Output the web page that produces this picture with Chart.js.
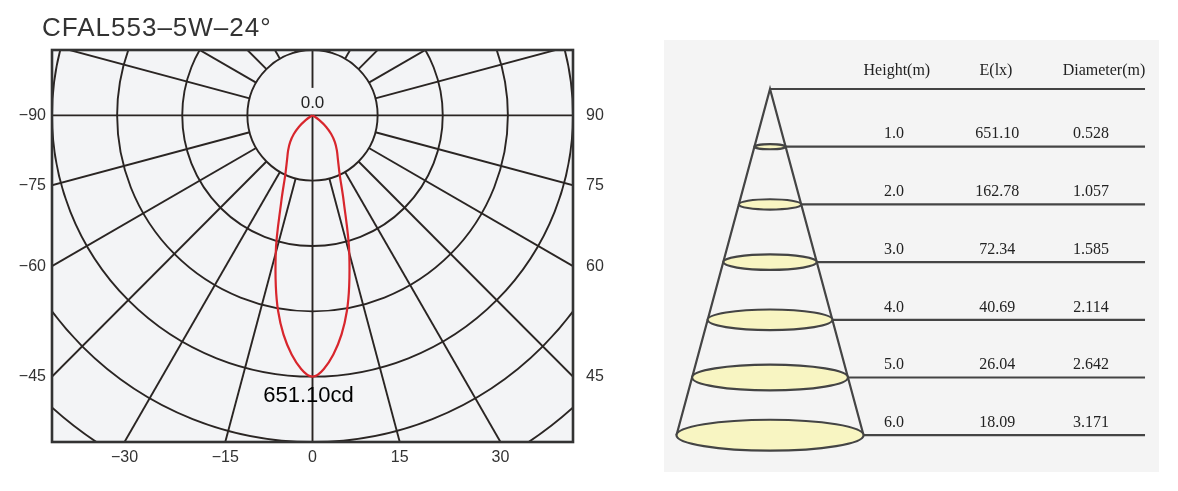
<!DOCTYPE html>
<html>
<head>
<meta charset="utf-8">
<title>CFAL553–5W–24°</title>
<script src="https://cdn.jsdelivr.net/npm/chart.js@4.4.1/dist/chart.umd.min.js"></script>
<style>
  html, body { margin: 0; padding: 0; background: #fff; }
  body { width: 1178px; height: 491px; position: relative; overflow: hidden; }
  #polarChart { position: absolute; left: 0; top: 0; }
  #coneChart { position: absolute; left: 664px; top: 40px; }
</style>
</head>
<body>
<canvas id="polarChart" width="620" height="491"></canvas>
<canvas id="coneChart" width="495" height="432"></canvas>
<script>
// light distribution curve (one half, mirrored)
const titleText = 'CFAL553–5W–24°';
const gammaDeg = [0, 5, 10, 15, 20, 25, 30, 35, 40, 45, 50, 55, 60, 65, 70, 75, 80, 85, 90];
const intensityCd = [651.10, 598, 495, 355, 228, 160, 127, 106, 87, 66, 44, 20, 6, 0, 0, 0, 0, 0, 0];

// axis tick angles
const leftTickAngles = [-90, -75, -60, -45];
const rightTickAngles = [90, 75, 60, 45];
const bottomTickAngles = [-30, -15, 0, 15, 30];

// cone table
const heightM = [1, 2, 3, 4, 5, 6];
const illuminanceLx = [651.10, 162.78, 72.34, 40.69, 26.04, 18.09];
const diameterM = [0.528, 1.057, 1.585, 2.114, 2.642, 3.171];

const maxCd = Math.max(...intensityCd);
const ringStep = maxCd / 4;
const xMin = -4 * ringStep, xMax = 4 * ringStep;
const yMin = -5 * ringStep, yMax = ringStep;
const rad = d => d * Math.PI / 180;
const fmtAngle = a => (a < 0 ? '−' + Math.abs(a) : String(a));

const gridColor = '#2a2523';
const tickFont = { family: '"Liberation Sans", Arial, sans-serif', size: 16 };

// full curve from -90 to 90
const curve = [];
for (let i = gammaDeg.length - 1; i > 0; i--) {
  const t = rad(-gammaDeg[i]);
  curve.push({ x: intensityCd[i] * Math.sin(t), y: -intensityCd[i] * Math.cos(t) });
}
for (let i = 0; i < gammaDeg.length; i++) {
  const t = rad(gammaDeg[i]);
  curve.push({ x: intensityCd[i] * Math.sin(t), y: -intensityCd[i] * Math.cos(t) });
}

const spokeAngles = [];
for (let a = 15; a < 180; a += 15) {
  if (a !== 90) { spokeAngles.push(a, -a); }
}

const polarGrid = {
  id: 'polarGrid',
  beforeDraw(chart) {
    const { ctx, chartArea: a } = chart;
    ctx.save();
    ctx.fillStyle = '#f3f4f6';
    ctx.fillRect(a.left, a.top, a.width, a.height);
    ctx.restore();
  },
  beforeDatasetsDraw(chart) {
    const { ctx, chartArea: a, scales: { x, y } } = chart;
    const px = (vx, vy) => [x.getPixelForValue(vx), y.getPixelForValue(vy)];
    const seg = (p0, p1) => {
      ctx.beginPath(); ctx.moveTo(p0[0], p0[1]); ctx.lineTo(p1[0], p1[1]); ctx.stroke();
    };
    ctx.save();
    ctx.beginPath();
    ctx.rect(a.left, a.top, a.width, a.height);
    ctx.clip();
    ctx.strokeStyle = gridColor;
    ctx.lineWidth = 1.9;
    const [cx, cy] = px(0, 0);
    for (let k = 1; k <= 7; k++) {
      const rx = x.getPixelForValue(k * ringStep) - cx;
      const ry = cy - y.getPixelForValue(k * ringStep);
      ctx.beginPath();
      ctx.ellipse(cx, cy, rx, ry, 0, 0, Math.PI * 2);
      ctx.stroke();
    }
    spokeAngles.forEach(deg => {
      const t = rad(deg);
      seg(px(ringStep * Math.sin(t), -ringStep * Math.cos(t)),
          px(9 * ringStep * Math.sin(t), -9 * ringStep * Math.cos(t)));
    });
    seg(px(xMin, 0), px(xMax, 0));
    seg(px(0, 0), px(0, yMin));
    seg(px(0, 0.42 * ringStep), px(0, yMax));
    ctx.restore();
  },
  afterDraw(chart) {
    const { ctx, chartArea: a, scales: { x, y } } = chart;
    ctx.save();
    ctx.strokeStyle = '#333';
    ctx.lineWidth = 2.6;
    ctx.strokeRect(a.left, a.top, a.width, a.height);

    ctx.fillStyle = '#222';
    ctx.textAlign = 'center';
    ctx.textBaseline = 'middle';
    ctx.font = '17px "Liberation Sans", Arial, sans-serif';
    ctx.fillText('0.0', x.getPixelForValue(0), y.getPixelForValue(0.18 * ringStep));
    ctx.fillStyle = '#000';
    ctx.font = '22px "Liberation Sans", Arial, sans-serif';
    ctx.fillText(maxCd.toFixed(2) + 'cd', x.getPixelForValue(-10), y.getPixelForValue(-4.3 * ringStep));

    ctx.fillStyle = '#333';
    ctx.textAlign = 'left';
    ctx.textBaseline = 'alphabetic';
    ctx.font = '26px "Liberation Sans", Arial, sans-serif';
    ctx.letterSpacing = '1px';
    ctx.fillText(titleText, 42, 36);
    ctx.restore();
  }
};

// side and bottom tick positions: where the spokes meet the frame
const sideTickValues = leftTickAngles.map(a => xMin / Math.tan(rad(Math.abs(a))));
const bottomTickValues = bottomTickAngles.map(a => -yMin * Math.tan(rad(a)));

new Chart(document.getElementById('polarChart'), {
  type: 'scatter',
  data: {
    datasets: [{
      data: curve,
      showLine: true,
      borderColor: '#d8262d',
      borderWidth: 2.2,
      pointRadius: 0,
      tension: 0.35,
      fill: false
    }]
  },
  options: {
    responsive: false,
    animation: false,
    layout: { padding: { top: 50, left: 0, right: 0, bottom: 0 } },
    plugins: { legend: { display: false }, tooltip: { enabled: false } },
    scales: {
      x: {
        type: 'linear', min: xMin, max: xMax,
        grid: { display: false, drawTicks: false },
        border: { display: false },
        afterBuildTicks: sc => { sc.ticks = bottomTickValues.map(v => ({ value: v })); },
        afterFit: sc => { sc.height = 49; },
        ticks: { autoSkip: false, maxRotation: 0, padding: 6, color: '#333', font: tickFont,
          callback: (v, i) => fmtAngle(bottomTickAngles[i]) }
      },
      y: {
        type: 'linear', position: 'left', min: yMin, max: yMax,
        grid: { display: false, drawTicks: false },
        border: { display: false },
        afterBuildTicks: sc => { sc.ticks = sideTickValues.map(v => ({ value: v })); },
        afterFit: sc => { sc.width = 52; },
        ticks: { autoSkip: false, padding: 6, color: '#333', font: tickFont,
          callback: (v, i) => fmtAngle(leftTickAngles[i]) }
      },
      y2: {
        type: 'linear', position: 'right', min: yMin, max: yMax,
        grid: { display: false, drawTicks: false },
        border: { display: false },
        afterBuildTicks: sc => { sc.ticks = sideTickValues.map(v => ({ value: v })); },
        afterFit: sc => { sc.width = 47; },
        ticks: { autoSkip: false, padding: 13, color: '#333', font: tickFont,
          callback: (v, i) => fmtAngle(rightTickAngles[i]) }
      }
    }
  },
  plugins: [polarGrid]
});

// cone chart: x = radius (m), y = height (m)
const lineEnd = 6.356;
const coneColor = '#444';
const lastR = diameterM[diameterM.length - 1] / 2;
const lastH = heightM[heightM.length - 1];

const coneDatasets = [{
  data: [{ x: -lastR, y: lastH }, { x: 0, y: 0 }, { x: lastR, y: lastH }]
}, {
  data: [{ x: 0, y: 0 }, { x: lineEnd, y: 0 }]
}];
heightM.forEach((h, i) => {
  coneDatasets.push({ data: [{ x: diameterM[i] / 2, y: h }, { x: lineEnd, y: h }] });
});
coneDatasets.forEach(ds => {
  Object.assign(ds, { showLine: true, borderColor: coneColor, borderWidth: 2.2, pointRadius: 0, tension: 0 });
});

const coneTable = {
  id: 'coneTable',
  beforeDraw(chart) {
    const { ctx, chartArea: a } = chart;
    ctx.save();
    ctx.fillStyle = '#f4f4f4';
    ctx.fillRect(a.left, a.top, a.width, a.height);
    ctx.restore();
  },
  afterDatasetsDraw(chart) {
    const { ctx, scales: { x, y } } = chart;
    ctx.save();
    const cx = x.getPixelForValue(0);
    heightM.forEach((h, i) => {
      const rx = x.getPixelForValue(diameterM[i] / 2) - cx;
      ctx.beginPath();
      ctx.ellipse(cx, y.getPixelForValue(h), rx, rx * 0.165, 0, 0, Math.PI * 2);
      ctx.fillStyle = '#f8f5c2';
      ctx.fill();
      ctx.strokeStyle = coneColor;
      ctx.lineWidth = 2.2;
      ctx.stroke();
    });
    ctx.fillStyle = '#222';
    ctx.textAlign = 'center';
    ctx.textBaseline = 'middle';
    ctx.font = '16px "Liberation Serif", "Times New Roman", serif';
    const hy = y.getPixelForValue(-0.32);
    ctx.fillText('Height(m)', x.getPixelForValue(2.15), hy);
    ctx.fillText('E(lx)', x.getPixelForValue(3.83), hy);
    ctx.fillText('Diameter(m)', x.getPixelForValue(5.66), hy);
    heightM.forEach((h, i) => {
      const ty = y.getPixelForValue(h - 0.215);
      ctx.fillText(h.toFixed(1), x.getPixelForValue(2.1), ty);
      ctx.fillText(illuminanceLx[i].toFixed(2), x.getPixelForValue(3.85), ty);
      ctx.fillText(diameterM[i].toFixed(3), x.getPixelForValue(5.44), ty);
    });
    ctx.restore();
  }
};

new Chart(document.getElementById('coneChart'), {
  type: 'scatter',
  data: { datasets: coneDatasets },
  options: {
    responsive: false,
    animation: false,
    layout: { padding: 0 },
    plugins: { legend: { display: false }, tooltip: { enabled: false } },
    scales: {
      x: { type: 'linear', display: false, min: -1.797, max: 6.593 },
      y: { type: 'linear', display: false, min: -0.849, max: 6.638, reverse: true }
    }
  },
  plugins: [coneTable]
});
</script>
</body>
</html>
